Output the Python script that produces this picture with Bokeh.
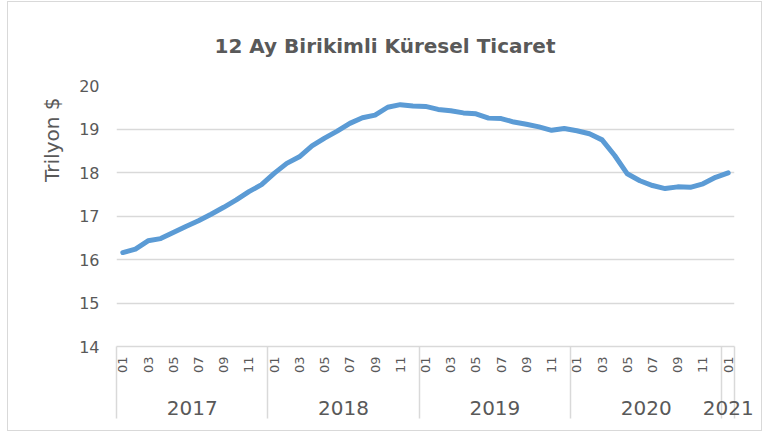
import math
from bokeh.plotting import figure
from bokeh.models import Range1d, FixedTicker, LinearAxis, Title, ColumnDataSource
from bokeh.embed import file_html
from bokeh.resources import INLINE

years = ["2017", "2018", "2019", "2020", "2021"]
months = ["01", "02", "03", "04", "05", "06", "07", "08", "09", "10", "11", "12"]
periods = [(y, m) for y in years[:-1] for m in months] + [("2021", "01")]

trade = [
    16.16, 16.24, 16.43, 16.48, 16.62, 16.76, 16.89, 17.04, 17.20, 17.37, 17.56, 17.72,
    17.98, 18.21, 18.36, 18.61, 18.79, 18.95, 19.13, 19.26, 19.32, 19.50, 19.56, 19.53,
    19.52, 19.45, 19.42, 19.37, 19.35, 19.25, 19.24, 19.16, 19.11, 19.05, 18.97, 19.01,
    18.96, 18.89, 18.75, 18.39, 17.97, 17.81, 17.70, 17.63, 17.67, 17.66, 17.74, 17.89,
    17.99,
]
y_ticks = [14, 15, 16, 17, 18, 19, 20]

TEXT = "#595959"
GRID = "#D9D9D9"
FONT = "DejaVu Sans"

idx = list(range(len(periods)))
src = ColumnDataSource(dict(x=idx, y=trade))

month_ticks = [i for i, (y, m) in enumerate(periods) if int(m) % 2 == 1]
month_over = {i: periods[i][1] for i in month_ticks}
year_ticks = []
seps = []
for yr in years:
    ii = [i for i, (y, m) in enumerate(periods) if y == yr]
    year_ticks.append((ii[0] + ii[-1]) / 2)
    seps.append(ii[0] - 0.5)
seps.append(len(periods) - 0.5)
year_over = {t: yr for t, yr in zip(year_ticks, years)}

p = figure(width=755, height=430, output_backend="svg", toolbar_location=None,
           x_range=Range1d(-0.5, len(periods) - 0.5), y_range=Range1d(14, 20),
           x_axis_location=None, min_border_left=108, min_border_right=29,
           min_border_top=83, min_border_bottom=86,
           styles={"border": "1px solid #D9D9D9", "margin-left": "7px", "margin-top": "1px"})
p.outline_line_color = None
p.background_fill_color = "white"
p.border_fill_color = "white"
p.title.text = ""
p.title.standoff = 0

title = Title(text="12 Ay Birikimli Küresel Ticaret", align="left", offset=98,
              standoff=55, vertical_align="bottom", text_font=FONT,
              text_font_size="20px", text_font_style="bold", text_color=TEXT)
p.add_layout(title, "above")

p.line("x", "y", source=src, line_color="#5B9BD5", line_width=5, line_cap="round", line_join="round")

p.xgrid.visible = False
p.ygrid.ticker = FixedTicker(ticks=y_ticks)
p.ygrid.grid_line_color = GRID
p.ygrid.grid_line_width = 1.5

ya = p.yaxis[0]
ya.ticker = FixedTicker(ticks=y_ticks)
ya.axis_line_color = None
ya.major_tick_line_color = None
ya.minor_tick_line_color = None
ya.major_tick_out = 0
ya.minor_tick_out = 0
ya.major_label_standoff = 17
ya.major_label_text_font = FONT
ya.major_label_text_font_size = "16px"
ya.major_label_text_color = TEXT

ytitle = Title(text="Trilyon $", align="right", offset=12, standoff=25,
               vertical_align="bottom", text_font=FONT, text_font_size="20px",
               text_font_style="normal", text_color=TEXT)
p.add_layout(ytitle, "left")

xa = LinearAxis(ticker=FixedTicker(ticks=month_ticks, minor_ticks=seps),
                major_label_overrides=month_over,
                major_label_orientation=math.pi / 2,
                axis_line_color=GRID, axis_line_width=1.5,
                major_tick_line_color=None, major_tick_out=0, major_tick_in=0,
                minor_tick_line_color=GRID, minor_tick_line_width=1.5,
                minor_tick_out=0, minor_tick_in=-72,
                major_label_standoff=10,
                major_label_text_font=FONT, major_label_text_font_size="13px",
                major_label_text_color=TEXT)
p.add_layout(xa, "below")

xb = LinearAxis(ticker=FixedTicker(ticks=year_ticks),
                major_label_overrides=year_over,
                axis_line_color=None,
                major_tick_line_color=None, major_tick_out=0, major_tick_in=0,
                minor_tick_line_color=None, minor_tick_out=0, minor_tick_in=0,
                major_label_standoff=24,
                major_label_text_font=FONT, major_label_text_font_size="20px",
                major_label_text_color=TEXT)
p.add_layout(xb, "below")

open("out.html", "w").write(file_html(p, INLINE))
